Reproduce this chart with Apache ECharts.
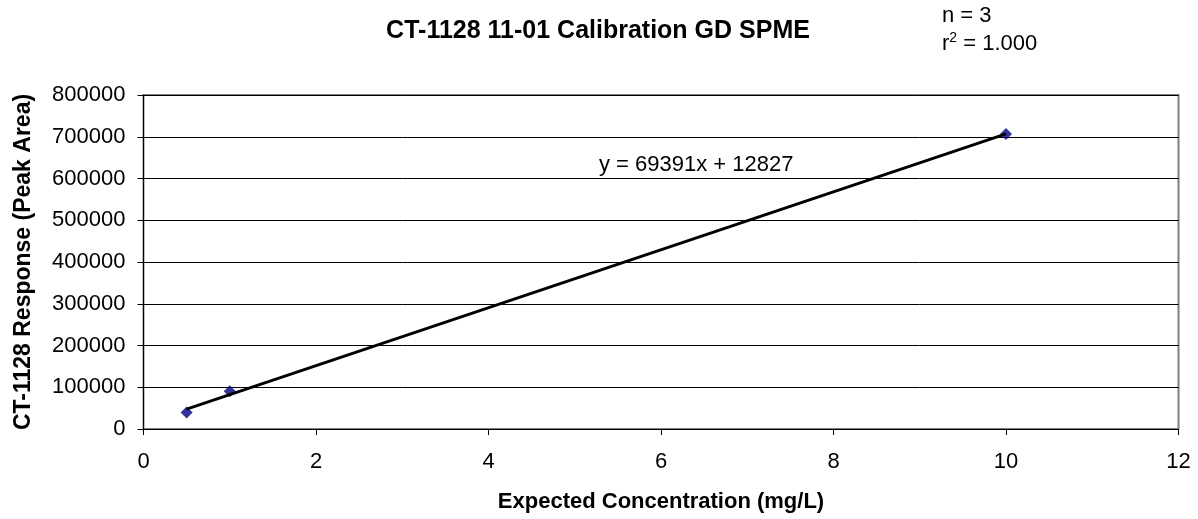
<!DOCTYPE html>
<html>
<head>
<meta charset="utf-8">
<title>CT-1128 11-01 Calibration GD SPME</title>
<script src="https://cdn.jsdelivr.net/npm/echarts@6/dist/echarts.min.js"></script>
<style>
  html, body { margin: 0; padding: 0; background: #fff; }
  #main { width: 1198px; height: 519px; }
</style>
</head>
<body>
<div id="main"></div>
<script>
  // 标定数据
  var concentrations = [0.5, 1, 10];          // mg/L
  var responses = [39500, 90700, 706300];     // peak area
  var trendSlope = 69391;
  var trendIntercept = 12827;
  var xTicks = [0, 2, 4, 6, 8, 10, 12];
  var yTicks = [0, 100000, 200000, 300000, 400000, 500000, 600000, 700000, 800000];

  var font = 'Liberation Sans, Arial, sans-serif';

  var points = [];
  for (var i = 0; i < concentrations.length; i++) {
    points.push([concentrations[i], responses[i]]);
  }
  // 趋势线: 从最小到最大浓度
  var xFirst = concentrations[0];
  var xLast = concentrations[concentrations.length - 1];
  var trendLine = [
    [xFirst, trendSlope * xFirst + trendIntercept],
    [xLast, trendSlope * xLast + trendIntercept]
  ];

  var chart = echarts.init(document.getElementById('main'));
  var option = {
    animation: false,
    title: {
      text: 'CT-1128 11-01 Calibration GD SPME',
      left: 593,
      top: 14,
      textAlign: 'center',
      textStyle: { fontFamily: font, fontSize: 25, fontWeight: 'bold', color: '#000' }
    },
    grid: {
      left: 143.5,
      right: 19.5,
      top: 95,
      bottom: 90,
      show: true,
      borderColor: '#808080',
      borderWidth: 2
    },
    xAxis: {
      type: 'value',
      min: xTicks[0],
      max: xTicks[xTicks.length - 1],
      interval: xTicks[1] - xTicks[0],
      name: 'Expected Concentration (mg/L)',
      nameLocation: 'middle',
      nameGap: 62,
      nameTextStyle: { fontFamily: font, fontSize: 22, fontWeight: 'bold', color: '#000' },
      axisLine: { show: true, lineStyle: { color: '#000', width: 1 } },
      axisTick: { show: true, length: 6, lineStyle: { color: '#000' } },
      axisLabel: { fontFamily: font, fontSize: 22, color: '#000', margin: 22 },
      splitLine: { show: false }
    },
    yAxis: {
      type: 'value',
      min: yTicks[0],
      max: yTicks[yTicks.length - 1],
      interval: yTicks[1] - yTicks[0],
      name: 'CT-1128 Response (Peak Area)',
      nameLocation: 'middle',
      nameGap: 108,
      nameTextStyle: { fontFamily: font, fontSize: 23, fontWeight: 'bold', color: '#000' },
      axisLine: { show: true, lineStyle: { color: '#000', width: 1 } },
      axisTick: { show: true, length: 6, lineStyle: { color: '#000' } },
      axisLabel: {
        fontFamily: font, fontSize: 22, color: '#000', margin: 18,
        formatter: function (v) { return String(v); }   // 不要千位分隔符
      },
      splitLine: { show: true, lineStyle: { color: '#000', width: 1 } }
    },
    graphic: [
      {
        type: 'text', left: 942, top: 5,
        style: { text: 'n = 3', font: '22px ' + font, fill: '#000' }
      },
      {
        type: 'text', left: 942, top: 31,
        style: {
          text: '{a|r}{s|2}{a| = 1.000}',
          rich: {
            a: { fontFamily: font, fontSize: 22, fill: '#000', verticalAlign: 'bottom' },
            s: { fontFamily: font, fontSize: 14, fill: '#000', verticalAlign: 'top', padding: [0, 0, 10, 0] }
          }
        }
      },
      {
        type: 'text', left: 599, top: 154,
        style: { text: 'y = 69391x + 12827', font: '22px ' + font, fill: '#000' }
      }
    ],
    series: [
      {
        name: 'trend',
        type: 'line',
        data: trendLine,
        symbol: 'none',
        lineStyle: { color: '#000', width: 3 },
        z: 3
      },
      {
        name: 'data',
        type: 'scatter',
        data: points,
        symbol: 'diamond',
        symbolSize: 12,
        itemStyle: { color: '#000080' },
        z: 2
      }
    ]
  };
  chart.setOption(option);
</script>
</body>
</html>
